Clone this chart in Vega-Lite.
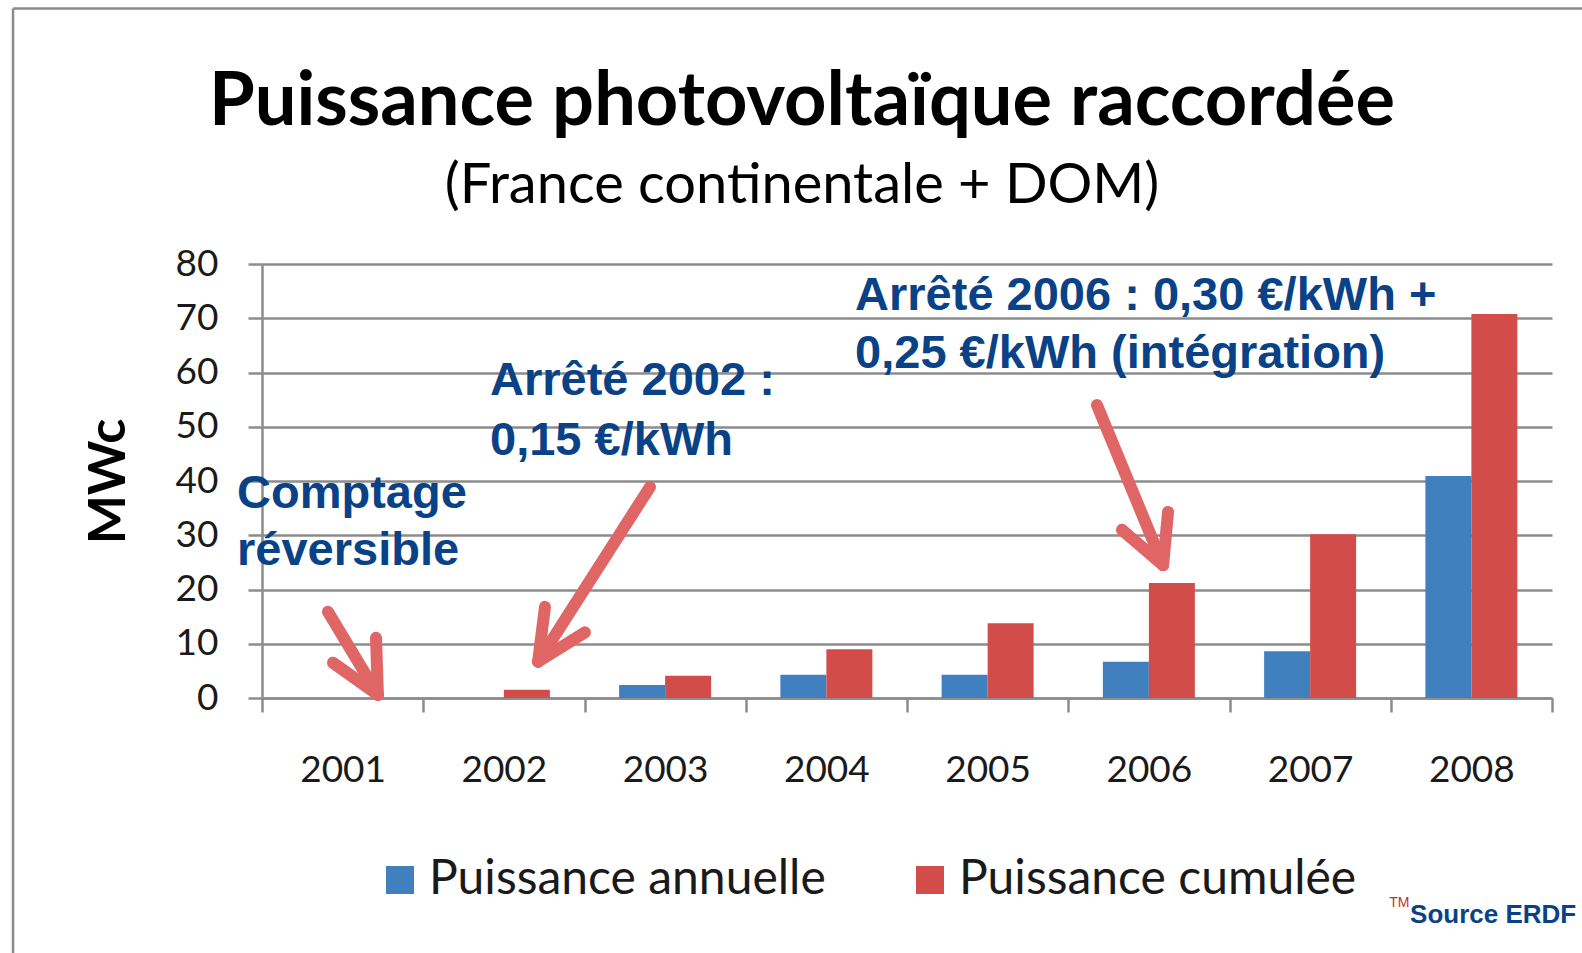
{
  "$schema": "https://vega.github.io/schema/vega-lite/v6.json",
  "width": 1290,
  "height": 434,
  "autosize": {"type": "none"},
  "padding": {"left": 262, "top": 264, "right": 30, "bottom": 255},
  "background": "white",
  "config": {"view": {"stroke": null}},
  "title": {
    "text": "Puissance photovoltaïque raccordée",
    "subtitle": "(France continentale + DOM)",
    "font": "Lato",
    "fontSize": 74,
    "fontWeight": "bold",
    "color": "#000000",
    "subtitleFont": "Lato",
    "subtitleFontSize": 56,
    "subtitleColor": "#000000",
    "subtitlePadding": 18,
    "anchor": "middle",
    "frame": "group",
    "dx": -105,
    "offset": -208
  },
  "layer": [
    {
      "data": {"values": [
        {"year": "2001", "serie": "Puissance annuelle", "value": 0},
        {"year": "2001", "serie": "Puissance cumulée", "value": 0},
        {"year": "2002", "serie": "Puissance annuelle", "value": 0},
        {"year": "2002", "serie": "Puissance cumulée", "value": 1.5},
        {"year": "2003", "serie": "Puissance annuelle", "value": 2.4},
        {"year": "2003", "serie": "Puissance cumulée", "value": 4.1},
        {"year": "2004", "serie": "Puissance annuelle", "value": 4.3},
        {"year": "2004", "serie": "Puissance cumulée", "value": 9.0},
        {"year": "2005", "serie": "Puissance annuelle", "value": 4.3},
        {"year": "2005", "serie": "Puissance cumulée", "value": 13.8},
        {"year": "2006", "serie": "Puissance annuelle", "value": 6.7},
        {"year": "2006", "serie": "Puissance cumulée", "value": 21.2},
        {"year": "2007", "serie": "Puissance annuelle", "value": 8.6},
        {"year": "2007", "serie": "Puissance cumulée", "value": 30.2},
        {"year": "2008", "serie": "Puissance annuelle", "value": 40.9},
        {"year": "2008", "serie": "Puissance cumulée", "value": 70.8}
      ]},
      "mark": {"type": "bar"},
      "encoding": {
        "x": {
          "field": "year", "type": "nominal",
          "scale": {"paddingInner": 0, "paddingOuter": 0},
          "axis": {
            "title": null, "labelFont": "Lato", "labelFontSize": 37, "labelColor": "#1a1a1a",
            "labelAngle": 0, "labelPadding": 40, "tickBand": "extent", "tickSize": 14,
            "tickColor": "#8c8c8c", "tickWidth": 2.5, "domainColor": "#8c8c8c", "domainWidth": 2.5, "grid": false
          }
        },
        "xOffset": {"field": "serie", "type": "nominal", "sort": ["Puissance annuelle", "Puissance cumulée"],
          "scale": {"paddingInner": 0, "paddingOuter": 0.753}},
        "y": {
          "field": "value", "type": "quantitative", "title": "MWc",
          "scale": {"domain": [0, 80], "nice": false},
          "axis": {
            "values": [0, 10, 20, 30, 40, 50, 60, 70, 80],
            "labelFont": "Lato", "labelFontSize": 37, "labelColor": "#1a1a1a", "labelPadding": 30,
            "tickSize": 14, "tickColor": "#8c8c8c", "tickWidth": 2.5,
            "domainColor": "#8c8c8c", "domainWidth": 2.5,
            "gridColor": "#8c8c8c", "gridWidth": 2.5,
            "titleFont": "Lato", "titleFontSize": 52, "titleFontWeight": "bold", "titleColor": "#000000", "titlePadding": 40
          }
        },
        "color": {
          "field": "serie", "type": "nominal",
          "scale": {"domain": ["Puissance annuelle", "Puissance cumulée"], "range": ["#4080BF", "#D24D49"]},
          "legend": {
            "title": null, "orient": "none", "legendX": 114, "legendY": 592, "direction": "horizontal",
            "symbolType": "square", "symbolSize": 784, "symbolStrokeWidth": 0,
            "labelFont": "Lato", "labelFontSize": 48, "labelColor": "#1a1a1a", "labelOffset": 5,
            "columnPadding": 80, "labelLimit": 600
          }
        }
      }
    },
    {
      "data": {"values": [
        {"x": -1.544, "y": 127.1, "x2": -1.544, "y2": -47},
        {"x": -1.544, "y": 127.1, "x2": 8.3, "y2": 127.1}
      ]},
      "mark": {"type": "rule", "color": "#8a8a8a", "strokeWidth": 2.5},
      "encoding": {
        "x": {"field": "x", "type": "quantitative", "scale": {"domain": [0, 8], "nice": false, "zero": false}, "axis": null},
        "y": {"field": "y", "type": "quantitative", "scale": {"domain": [0, 80], "nice": false, "zero": false}, "axis": null},
        "x2": {"field": "x2"},
        "y2": {"field": "y2"}
      }
    },
    {
      "data": {"values": [
        {"x": 0.409, "y": 15.9, "x2": 0.719, "y2": 0.6},
        {"x": 0.719, "y": 0.6, "x2": 0.440, "y2": 6.5},
        {"x": 0.719, "y": 0.6, "x2": 0.707, "y2": 11.1},
        {"x": 2.406, "y": 38.9, "x2": 1.712, "y2": 6.7},
        {"x": 1.712, "y": 6.7, "x2": 1.755, "y2": 16.8},
        {"x": 1.712, "y": 6.7, "x2": 2.003, "y2": 12.1},
        {"x": 5.178, "y": 54.0, "x2": 5.588, "y2": 24.5},
        {"x": 5.588, "y": 24.5, "x2": 5.619, "y2": 34.3},
        {"x": 5.588, "y": 24.5, "x2": 5.333, "y2": 31.0}
      ]},
      "mark": {"type": "rule", "color": "#E06666", "strokeWidth": 12, "strokeCap": "round"},
      "encoding": {
        "x": {"field": "x", "type": "quantitative", "scale": {"domain": [0, 8], "nice": false, "zero": false}, "axis": null},
        "y": {"field": "y", "type": "quantitative", "scale": {"domain": [0, 80], "nice": false, "zero": false}, "axis": null},
        "x2": {"field": "x2"},
        "y2": {"field": "y2"}
      }
    },
    {
      "data": {"values": [
        {"label": "Comptage", "x": -0.155, "y": 35.0},
        {"label": "réversible", "x": -0.155, "y": 24.5},
        {"label": "Arrêté 2002 :", "x": 1.414, "y": 55.8},
        {"label": "0,15 €/kWh", "x": 1.414, "y": 44.8},
        {"label": "Arrêté 2006 : 0,30 €/kWh +", "x": 3.678, "y": 71.5},
        {"label": "0,25 €/kWh (intégration)", "x": 3.678, "y": 60.8}
      ]},
      "mark": {"type": "text", "align": "left", "baseline": "alphabetic", "font": "Liberation Sans", "fontWeight": "bold", "fontSize": 47, "color": "#0A4287"},
      "encoding": {
        "x": {"field": "x", "type": "quantitative", "scale": {"domain": [0, 8], "nice": false, "zero": false}, "axis": null},
        "y": {"field": "y", "type": "quantitative", "scale": {"domain": [0, 80], "nice": false, "zero": false}, "axis": null},
        "text": {"field": "label"}
      }
    },
    {
      "data": {"values": [{"label": "Source ERDF", "x": 7.12, "y": -41.4}]},
      "mark": {"type": "text", "align": "left", "baseline": "alphabetic", "font": "Liberation Sans", "fontWeight": "bold", "fontSize": 26, "color": "#0A4287"},
      "encoding": {
        "x": {"field": "x", "type": "quantitative", "scale": {"domain": [0, 8], "nice": false, "zero": false}, "axis": null},
        "y": {"field": "y", "type": "quantitative", "scale": {"domain": [0, 80], "nice": false, "zero": false}, "axis": null},
        "text": {"field": "label"}
      }
    },
    {
      "data": {"values": [{"label": "TM", "x": 6.99, "y": -38.5}]},
      "mark": {"type": "text", "align": "left", "baseline": "alphabetic", "font": "Liberation Sans", "fontSize": 14, "color": "#C0302D"},
      "encoding": {
        "x": {"field": "x", "type": "quantitative", "scale": {"domain": [0, 8], "nice": false, "zero": false}, "axis": null},
        "y": {"field": "y", "type": "quantitative", "scale": {"domain": [0, 80], "nice": false, "zero": false}, "axis": null},
        "text": {"field": "label"}
      }
    }
  ],
  "resolve": {"scale": {"x": "independent", "y": "independent", "color": "independent"}}
}
